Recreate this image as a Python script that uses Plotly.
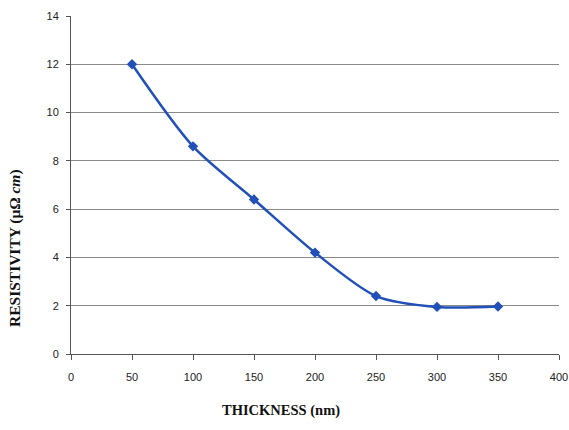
import plotly.graph_objects as go

thickness = [50, 100, 150, 200, 250, 300, 350]
resistivity = [12.0, 8.6, 6.4, 4.2, 2.4, 1.95, 1.97]
x_ticks = [0, 50, 100, 150, 200, 250, 300, 350, 400]
y_ticks = [0, 2, 4, 6, 8, 10, 12, 14]

fig = go.Figure()
fig.add_trace(go.Scatter(
    x=thickness, y=resistivity, mode="lines+markers",
    line=dict(color="#2150b8", width=2.5, shape="spline", smoothing=0.8),
    marker=dict(symbol="diamond", size=8, color="#2150b8"),
    showlegend=False,
))

tick_font = dict(family="Liberation Sans, Arial", size=11, color="#222")
L, R, T, B = 71, 10, 16, 76
fig.update_layout(
    width=569, height=430,
    margin=dict(l=L, r=R, t=T, b=B),
    paper_bgcolor="white", plot_bgcolor="white",
    xaxis=dict(range=[0, 400], tickvals=x_ticks, showgrid=False, zeroline=False,
               showline=True, linecolor="#555", linewidth=1, automargin=False,
               ticks="outside", ticklen=5, tickcolor="#555", tickfont=tick_font,
               ticklabelstandoff=8),
    yaxis=dict(range=[0, 14], tickvals=y_ticks, showgrid=True, gridcolor="#8a8a8a",
               gridwidth=1, zeroline=False, showline=True, linecolor="#555", linewidth=1,
               automargin=False,
               ticks="outside", ticklen=4, tickcolor="#555", tickfont=tick_font,
               ticklabelstandoff=5),
)
pw, ph = 569 - L - R, 430 - T - B
def px(x):
    return (x - L) / pw
def py(y):
    return 1 - (y - T) / ph
fig.add_annotation(text="<b>THICKNESS (nm)</b>", x=px(281), y=py(410), xref="paper", yref="paper",
                   xanchor="center", yanchor="middle", showarrow=False,
                   font=dict(family="Liberation Serif, Times New Roman", size=14.5, color="#111"))
fig.add_annotation(text="<b>RESISTIVITY (μΩ <i>cm</i>)</b>", x=px(15), y=py(248), xref="paper", yref="paper",
                   xanchor="center", yanchor="middle", showarrow=False, textangle=-90,
                   font=dict(family="Liberation Serif, Times New Roman", size=15.5, color="#111"))
fig.write_html("out.html", config={"displayModeBar": False},
               post_script="document.body.style.margin='0';")
